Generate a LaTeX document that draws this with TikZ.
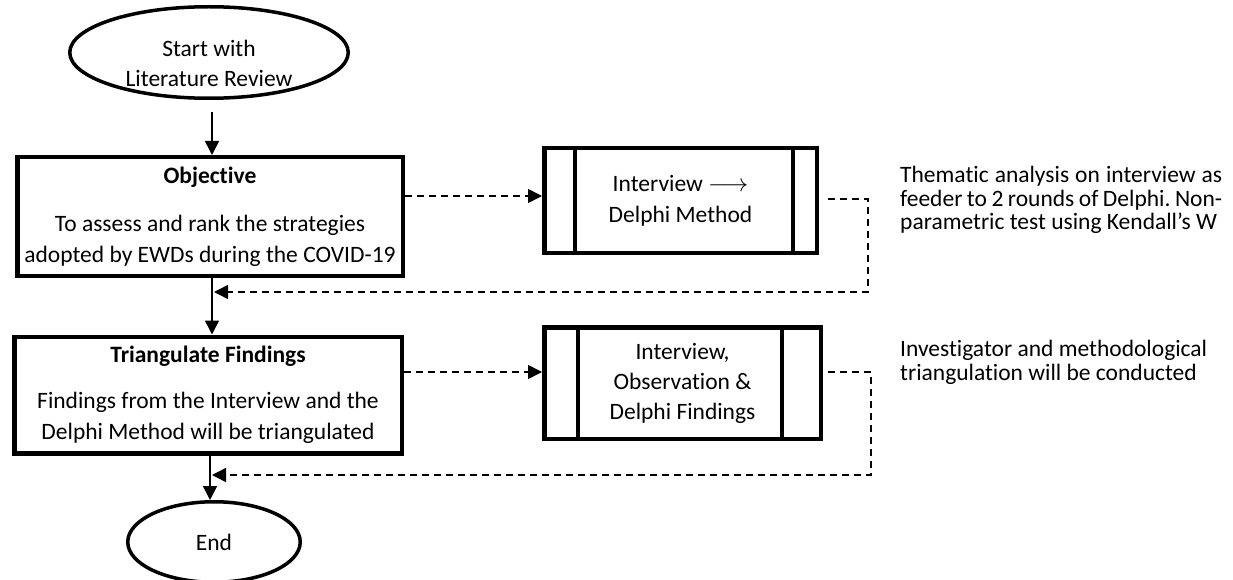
\documentclass[tikz,border=0pt]{standalone}
\usepackage{fontspec}
\setmainfont{Carlito}[Ligatures=NoCommon]
\usetikzlibrary{shapes.geometric,arrows.meta}
\frenchspacing

\begin{document}
\begin{tikzpicture}[x=1pt, y=-1pt,
  term/.style={ellipse, draw, line width=3.5pt, inner sep=0pt, font=\fontsize{23.5}{30}\selectfont},
  box/.style={rectangle, draw, line width=4.5pt, inner sep=0pt, align=center, font=\fontsize{23.5}{31}\selectfont},
  bar/.style={line width=4pt},
  note/.style={anchor=north west, inner sep=0pt, align=justify, font=\fontsize{23.5}{23.5}\selectfont},
  arr/.style={line width=1.5pt, -{Triangle[length=14pt,width=14pt]}},
  dashline/.style={arr, dash pattern=on 7pt off 5pt}]

\useasboundingbox (0,0) rectangle (1233,580);

% Nodi del flusso
\node[term, minimum width=278.5, minimum height=91.5] (start) at (209,52.5) {};
\node[align=center, inner sep=0pt, font=\fontsize{23.5}{30}\selectfont] (starttxt) at (209,63) {Start with\\Literature Review};
\node[box, minimum width=385.5, minimum height=118.5] (obj) at (210,216.5) {\textbf{Objective}\\[17pt]To assess and rank the strategies\\adopted by EWDs during the COVID-19};
\node[box, minimum width=387.5, minimum height=116.5] (tri) at (208,395) {\textbf{Triangulate Findings}\\[15pt]Findings from the Interview and the\\Delphi Method will be triangulated};
\node[term, minimum width=172.5, minimum height=80.5] (end) at (214,542) {End};

% Metodi
\node[box, minimum width=272.5, minimum height=104.5] (m1) at (680.5,200.5) {Interview $\longrightarrow$\\Delphi Method};
\node[box, minimum width=276.5, minimum height=111.5, font=\fontsize{23.5}{30}\selectfont] (m2) at (682.5,383) {Interview,\\Observation \&\\Delphi Findings};
\draw[bar] ([xshift=33pt]m1.north west) -- ([xshift=33pt]m1.south west);
\draw[bar] ([xshift=-26pt]m1.north east) -- ([xshift=-26pt]m1.south east);
\draw[bar] ([xshift=36pt]m2.north west) -- ([xshift=36pt]m2.south west);
\draw[bar] ([xshift=-41pt]m2.north east) -- ([xshift=-41pt]m2.south east);

% Note
\node[note, text width=322pt] (n1) at (900,166) {Thematic analysis on interview as\linebreak feeder to 2 rounds of Delphi. Non-\linebreak parametric test using Kendall’s W};
\node[note, align=left] (n2) at (900,340) {Investigator and methodological\\triangulation will be conducted};

\coordinate (j1) at (214,292);
\coordinate (j2) at (212,475);

% Archi
\draw[arr] ([xshift=3pt, yshift=-12pt]start.south) -- ([xshift=3pt]start.south |- obj.north);
\draw[arr] ([xshift=2pt]obj.south) -- ([xshift=2pt]obj.south |- tri.north);
\draw[arr] ([xshift=2pt]tri.south) -- ([xshift=2pt]tri.south |- end.north);
\draw[dashline] ([yshift=20.5pt]obj.east) -- ([yshift=4.5pt]m1.west);
\draw[dashline] ([yshift=23pt]tri.east) -- ([yshift=11pt]m2.west);
\draw[dashline] ([xshift=9pt, yshift=1.5pt]m1.east) -- ++(40,0) |- (j1);
\draw[dashline] ([xshift=5pt, yshift=11pt]m2.east) -- ++(43,0) |- (j2);

\end{tikzpicture}
\end{document}
